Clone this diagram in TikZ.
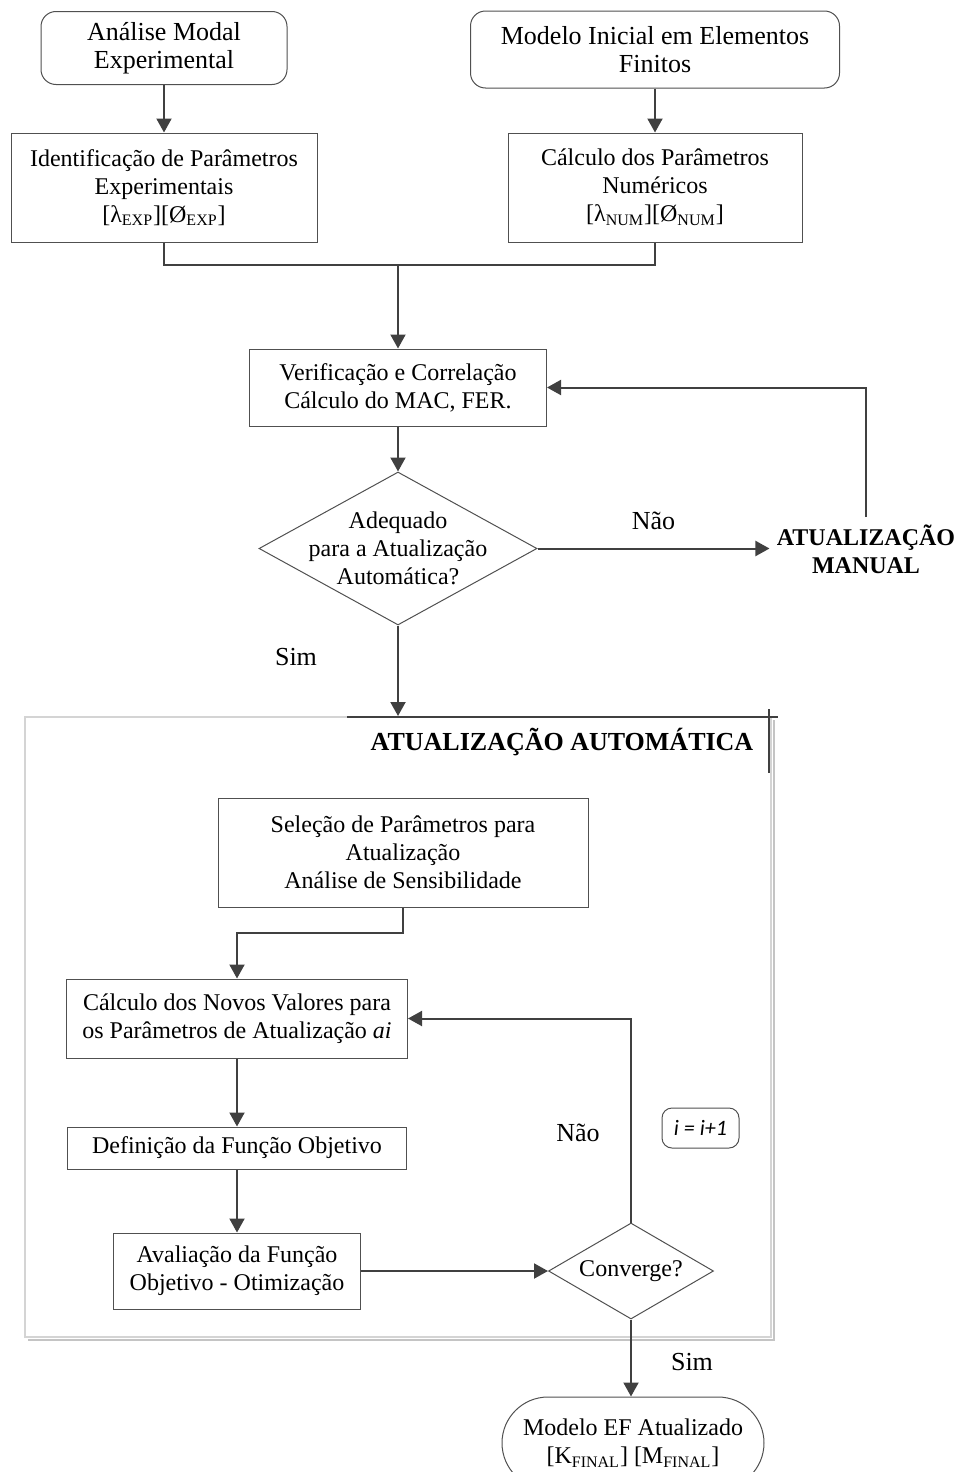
\documentclass[tikz,border=0pt]{standalone}
\usepackage{fontspec}
\setmainfont{Liberation Serif}
\newfontfamily\calfont{Carlito}
\usepackage{tikz}
\usetikzlibrary{arrows.meta,shapes.geometric,calc}
\definecolor{ink}{HTML}{000000}
\definecolor{edge}{HTML}{404040}
\definecolor{boxline}{HTML}{505050}
\definecolor{framegray}{HTML}{D4D4D4}
\definecolor{shadowgray}{HTML}{C4C4C4}

\begin{document}
\begin{tikzpicture}[x=0.5pt,y=-0.5pt,
  every node/.style={font=\fontsize{12}{14}\selectfont,color=ink},
  proc/.style={draw=boxline,line width=0.5pt,align=center,inner sep=0pt},
  term/.style={proc,rounded corners=7.5pt},
  decide/.style={draw=boxline,line width=0.5pt,diamond,inner sep=0pt},
  flow/.style={draw=edge,line width=1pt,-{Triangle[length=7pt,width=7.5pt]}},
  link/.style={draw=edge,line width=1pt},
  tag/.style={font=\fontsize{13}{14}\selectfont}]
  \useasboundingbox (0,0) rectangle (957,1472);
  \clip (0,0) rectangle (957,1472);

  \node[term,minimum width=123pt,minimum height=36.5pt,font=\fontsize{13}{14}\selectfont] (ams) at (164,48) {Análise Modal\\Experimental};
  \node[term,minimum width=184.5pt,minimum height=38.5pt,font=\fontsize{13}{14}\selectfont] (mief) at (655,49.5) {Modelo Inicial em Elementos\\Finitos};
  \node[proc,minimum width=153pt,minimum height=54.5pt] (ipe) at (164,187.5) {Identificação de Parâmetros\\Experimentais\\{}[λ\textsubscript{EXP}][Ø\textsubscript{EXP}]};
  \node[proc,minimum width=147pt,minimum height=54.5pt] (cpn) at (655,187.5) {Cálculo dos Parâmetros\\Numéricos\\{}[λ\textsubscript{NUM}][Ø\textsubscript{NUM}]};
  \coordinate (join) at (398,265);
  \node[proc,minimum width=148.5pt,minimum height=38.5pt] (vc) at (398,387.5) {Verificação e Correlação\\Cálculo do MAC, FER.};
  \node[decide,minimum width=139pt,minimum height=76.5pt] (adeq) at (398,548.5) {};
  \node[align=center] at (adeq) {Adequado\\para a Atualização\\Automática?};
  \node[align=center,inner sep=3.5pt,font=\bfseries\fontsize{12}{14}\selectfont] (manual) at (866,549) {ATUALIZAÇÃO\\MANUAL};

  \node[draw=framegray,line width=1pt,minimum width=373pt,minimum height=310pt,inner sep=0pt] (autoframe) at (398,1027) {};
  \draw[shadowgray,line width=1pt] (773.5,720) -- (773.5,1339.5) -- (28,1339.5);
  \draw[edge,line width=0.6pt] (347,717) -- (778,717);
  \draw[edge,line width=0.6pt] (769,709) -- (769,773);
  \node[font=\bfseries\fontsize{13}{14}\selectfont] (autotitle) at (562,742) {ATUALIZAÇÃO AUTOMÁTICA};

  \node[proc,minimum width=185pt,minimum height=54.5pt] (sel) at (403,852.5) {Seleção de Parâmetros para\\Atualização\\Análise de Sensibilidade};
  \node[proc,minimum width=170.5pt,minimum height=39.5pt] (cnv) at (237,1018.5) {Cálculo dos Novos Valores para\\os Parâmetros de Atualização \textit{ai}};
  \node[proc,minimum width=169.5pt,minimum height=21pt] (def) at (237,1148) {Definição da Função Objetivo};
  \node[proc,minimum width=123.5pt,minimum height=38pt] (aval) at (237,1271) {Avaliação da Função\\Objetivo - Otimização};
  \node[decide,minimum width=82.5pt,minimum height=48pt] (conv) at (631,1271) {};
  \node at (conv) {Converge?};
  \node[proc,rounded corners=5pt,minimum width=38.5pt,minimum height=20pt,font=\calfont\itshape\fontsize{11}{13}\selectfont] (inc) at (700.5,1128) {i = i+1};
  \node[term,rounded corners=23pt,minimum width=131pt,minimum height=46pt] (final) at (633,1443) {Modelo EF Atualizado\\{}[K\textsubscript{FINAL}] [M\textsubscript{FINAL}]};

  \draw[flow] (ams) -- (ipe);
  \draw[flow] (mief) -- (cpn);
  \draw[link] (ipe.south) |- (join) -| (cpn.south);
  \draw[flow] (join) -- (vc.north);
  \draw[flow] (vc) -- (adeq);
  \draw[flow] (adeq.east) -- node[tag,pos=0.5,yshift=14pt] {Não} (adeq.east -| manual.west);
  \draw[flow] (manual.north) |- (vc.east);
  \draw[flow] (adeq.south) -- node[tag,pos=0.35,xshift=-51pt] {Sim} (adeq.south |- autoframe.north);
  \draw[flow] (sel.south) -- ++(0,25) -| (cnv.north);
  \draw[flow] (cnv) -- (def);
  \draw[flow] (def) -- (aval);
  \draw[flow] (aval.east) -- (conv.west);
  \draw[flow] (conv.north) |- node[tag,pos=0.22,xshift=-26.5pt] {Não} (cnv.east);
  \draw[flow] (conv.south) -- node[tag,pos=0.55,xshift=30.5pt] {Sim} (conv.south |- final.north);
\end{tikzpicture}
\end{document}
